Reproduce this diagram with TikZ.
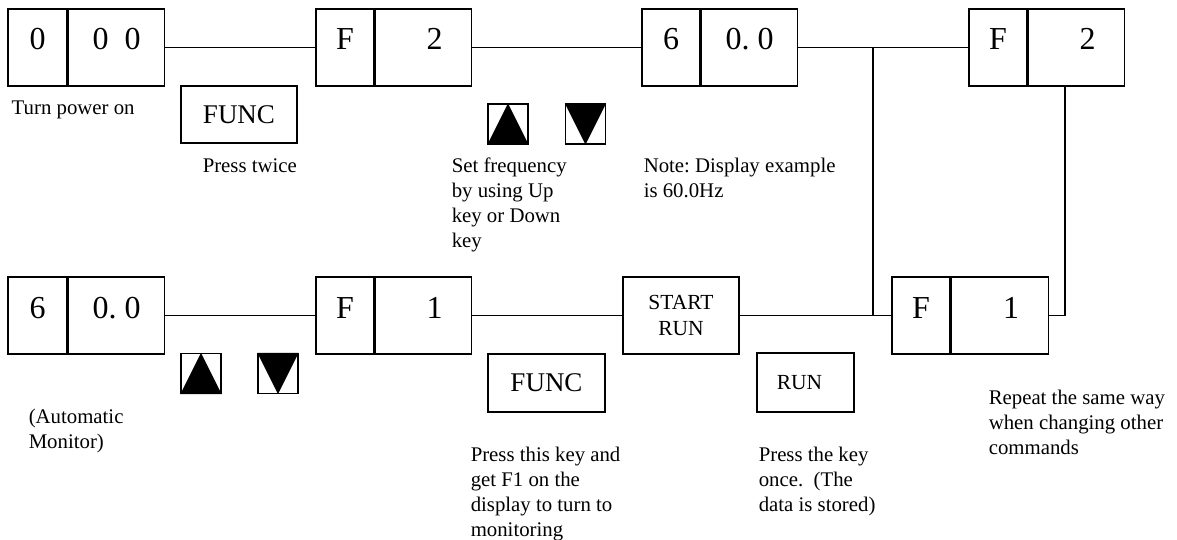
\documentclass[tikz,border=0pt]{standalone}
\usepackage{fontspec}
\setmainfont{Liberation Serif}
\frenchspacing
\begin{document}
\begin{tikzpicture}[
  x=1pt, y=-1pt, line width=1.5pt,
  cell/.style={draw, minimum height=77pt, inner sep=0pt,
    font=\fontsize{32}{32}\selectfont, text height=22pt, text depth=17pt},
  keybox/.style={draw, inner sep=0pt},
  arrowkey/.style={draw, line width=1.2pt, minimum size=40pt, inner sep=0pt},
  note/.style={anchor=north west, inner sep=0pt, align=left,
    font=\fontsize{20.8}{25}\selectfont},
  wire/.style={line width=1.5pt}
]
\useasboundingbox (0,0) rectangle (1177,540);

% upper row of displays
\node[cell, minimum width=59pt] (al) at (37.5,47.5) {0};
\node[cell, minimum width=96pt, anchor=west] (ar) at (al.east) {0\hspace{16pt}0};
\node[cell, minimum width=58pt] (bl) at (345,47.5) {F};
\node[cell, minimum width=96pt, anchor=west] (br) at (bl.east) {\hspace*{22pt}2};
\node[cell, minimum width=58pt] (cl) at (671,47.5) {6};
\node[cell, minimum width=96pt, anchor=west] (cr) at (cl.east) {0. 0};
\node[cell, minimum width=58pt] (dl) at (998,47.5) {F};
\node[cell, minimum width=96pt, anchor=west] (dr) at (dl.east) {\hspace*{22pt}2};

% lower row of displays
\node[cell, minimum width=59pt] (el) at (37.5,315.5) {6};
\node[cell, minimum width=96pt, anchor=west] (er) at (el.east) {0. 0};
\node[cell, minimum width=58pt] (gl) at (345,315.5) {F};
\node[cell, minimum width=96pt, anchor=west] (gr) at (gl.east) {\hspace*{22pt}1};
\node[keybox, minimum width=116pt, minimum height=77pt, align=center,
  font=\fontsize{21.5}{26}\selectfont] (sr) at (681,315.5) {START\\RUN};
\node[cell, minimum width=58pt] (hl) at (921,315.5) {F};
\node[cell, minimum width=97pt, anchor=west] (hr) at (hl.east) {\hspace*{22pt}1};

% keys
\node[keybox, minimum width=116pt, minimum height=57pt,
  font=\fontsize{27}{27}\selectfont] (func1) at (239,114.5) {FUNC};
\node[keybox, minimum width=117pt, minimum height=58pt,
  font=\fontsize{27}{27}\selectfont] (func2) at (546.5,383) {FUNC};
\node[keybox, minimum width=97pt, minimum height=59pt,
  font=\fontsize{21.5}{26}\selectfont] (run) at (805.5,382.5) {RUN\hspace*{12pt}};

\node[arrowkey] (up1) at (508,124) {};
\node[arrowkey] (dn1) at (585.5,124) {};
\node[arrowkey] (up2) at (201,373.5) {};
\node[arrowkey] (dn2) at (278,373.5) {};
\foreach \k in {up1,up2}
  \fill (\k.south west) -- (\k.south east) -- (\k.north) -- cycle;
\foreach \k in {dn1,dn2}
  \fill (\k.north west) -- (\k.north east) -- (\k.south) -- cycle;

% connectors
\draw[wire] (ar.east) -- (bl.west);
\draw[wire] (br.east) -- (cl.west);
\draw[wire] (cr.east) -- (dl.west);
\draw[wire] (er.east) -- (gl.west);
\draw[wire] (gr.east) -- (sr.west);
\draw[wire] (sr.east) -- (hl.west);
\coordinate (split) at (873,47.5);
\draw[wire] (split) -- (split |- hl.west);
\coordinate (back) at (1065,0);
\draw[wire] (hr.east) -| (back |- dr.south);

% explanations
\node[note] (t1) at (11,100.5) {Turn power on};
\node[note] (t2) at (202,157.5) {Press twice};
\node[note] (t3) at (451,157.5) {Set frequency\\by using Up\\key or Down\\key};
\node[note] (t4) at (643,157.5) {Note: Display example\\is 60.0Hz};
\node[note] (t5) at (28,408.5) {(Automatic\\Monitor)};
\node[note] (t6) at (470,446) {Press this key and\\get F1 on the\\display to turn to\\monitoring};
\node[note] (t7) at (758,446) {Press the key\\once.\ \ (The\\data is stored)};
\node[note] (t8) at (988,389) {Repeat the same way\\when changing other\\commands};
\end{tikzpicture}
\end{document}
